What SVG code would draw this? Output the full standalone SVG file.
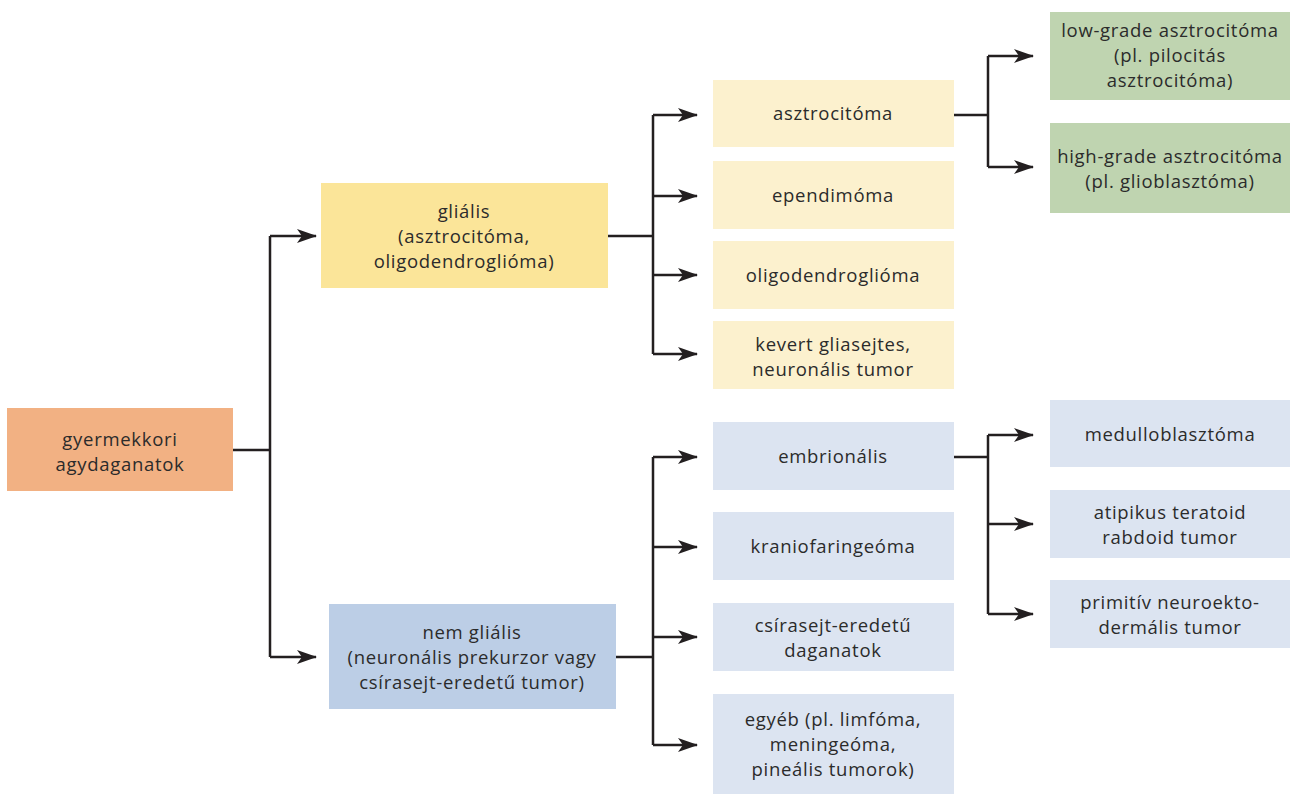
<svg xmlns="http://www.w3.org/2000/svg" width="1291" height="795" viewBox="0 0 1291 795">
<defs>
<marker id="ah" viewBox="0 0 20 14" refX="19" refY="7" markerWidth="20" markerHeight="14" markerUnits="userSpaceOnUse" orient="auto">
<path d="M0,0 L20,7 L0,14 L5,7 Z" fill="#231f20"/>
</marker>
<style>
text{font-family:"Open Sans","Noto Sans",sans-serif;font-size:18.5px;letter-spacing:0.7px;fill:#2b2b2b;text-anchor:middle}
.c{fill:none;stroke:#231f20;stroke-width:2.5}
.a{marker-end:url(#ah)}
.root{fill:#f2b183}.gl{fill:#fbe599}.ng{fill:#bccee6}.ly{fill:#fcf1ce}.lb{fill:#dce4f1}.gr{fill:#bfd4b0}
</style>
</defs>
<rect width="1291" height="795" fill="#fff"/>
<g id="connectors">
<path class="c" d="M233,450 H270 M270,236 V657"/>
<path class="c a" d="M270,236 H316"/>
<path class="c a" d="M270,657 H316"/>
<path class="c" d="M608,236 H653 M653,115 V354"/>
<path class="c a" d="M653,115 H697"/>
<path class="c a" d="M653,196 H697"/>
<path class="c a" d="M653,275 H697"/>
<path class="c a" d="M653,354 H697"/>
<path class="c" d="M616,657 H653 M653,457 V745"/>
<path class="c a" d="M653,457 H697"/>
<path class="c a" d="M653,547 H697"/>
<path class="c a" d="M653,637 H697"/>
<path class="c a" d="M653,745 H697"/>
<path class="c" d="M954,115 H988 M988,56 V167"/>
<path class="c a" d="M988,56 H1033"/>
<path class="c a" d="M988,167 H1033"/>
<path class="c" d="M954,457 H988 M988,435 V614"/>
<path class="c a" d="M988,435 H1033"/>
<path class="c a" d="M988,524 H1033"/>
<path class="c a" d="M988,614 H1033"/>
</g>
<g id="root"><rect class="root" x="7" y="408" width="226" height="83"/><text x="120" y="446">gyermekkori</text><text x="120" y="471">agydaganatok</text></g>
<g id="glialis"><rect class="gl" x="321" y="183" width="287" height="105"/><text x="464" y="218">gliális</text><text x="464" y="243">(asztrocitóma,</text><text x="464" y="268">oligodendroglióma)</text></g>
<g id="nemglialis"><rect class="ng" x="329" y="604" width="287" height="105"/><text x="472" y="639">nem gliális</text><text x="472" y="664">(neuronális prekurzor vagy</text><text x="472" y="689">csírasejt-eredetű tumor)</text></g>
<g id="asztrocitoma"><rect class="ly" x="713" y="80" width="241" height="67"/><text x="833" y="120">asztrocitóma</text></g>
<g id="ependimoma"><rect class="ly" x="713" y="161" width="241" height="68"/><text x="833" y="202">ependimóma</text></g>
<g id="oligo"><rect class="ly" x="713" y="241" width="241" height="68"/><text x="833" y="282">oligodendroglióma</text></g>
<g id="kevert"><rect class="ly" x="713" y="321" width="241" height="68"/><text x="833" y="351">kevert gliasejtes,</text><text x="833" y="376">neuronális tumor</text></g>
<g id="embrionalis"><rect class="lb" x="713" y="422" width="241" height="68"/><text x="833" y="463">embrionális</text></g>
<g id="kranio"><rect class="lb" x="713" y="512" width="241" height="68"/><text x="833" y="553">kraniofaringeóma</text></g>
<g id="csira"><rect class="lb" x="713" y="603" width="241" height="68"/><text x="833" y="632">csírasejt-eredetű</text><text x="833" y="657">daganatok</text></g>
<g id="egyeb"><rect class="lb" x="713" y="694" width="241" height="100"/><text x="833" y="726">egyéb (pl. limfóma,</text><text x="833" y="751">meningeóma,</text><text x="833" y="776">pineális tumorok)</text></g>
<g id="lowgrade"><rect class="gr" x="1050" y="12" width="240" height="88"/><text x="1170" y="37">low-grade asztrocitóma</text><text x="1170" y="62">(pl. pilocitás</text><text x="1170" y="87">asztrocitóma)</text></g>
<g id="highgrade"><rect class="gr" x="1050" y="123" width="240" height="90"/><text x="1170" y="163">high-grade asztrocitóma</text><text x="1170" y="188">(pl. glioblasztóma)</text></g>
<g id="medullo"><rect class="lb" x="1050" y="400" width="240" height="67"/><text x="1170" y="441">medulloblasztóma</text></g>
<g id="atipikus"><rect class="lb" x="1050" y="490" width="240" height="68"/><text x="1170" y="519">atipikus teratoid</text><text x="1170" y="544">rabdoid tumor</text></g>
<g id="primitiv"><rect class="lb" x="1050" y="580" width="240" height="68"/><text x="1170" y="609">primitív neuroekto-</text><text x="1170" y="634">dermális tumor</text></g>
</svg>
